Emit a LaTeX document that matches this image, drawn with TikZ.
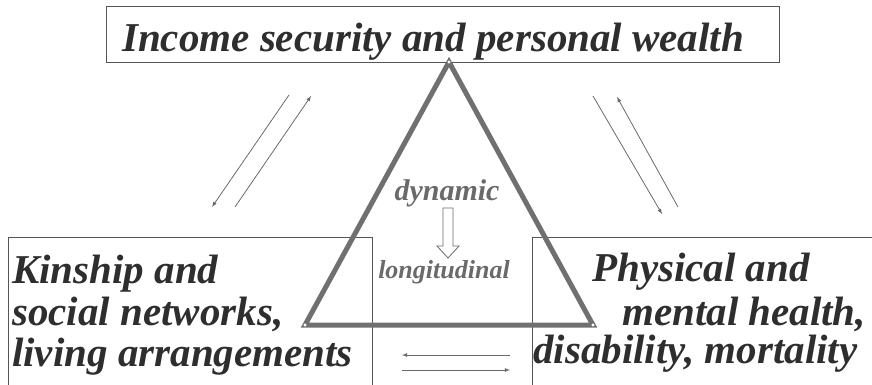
\documentclass[tikz,border=0pt]{standalone}
\usepackage{fontspec}
\setmainfont{Liberation Serif}
\definecolor{textgray}{HTML}{2E2E2E}
\definecolor{linegray}{HTML}{555555}
\definecolor{arrowgray}{HTML}{6A6A6A}
\definecolor{trigray}{HTML}{707070}
\begin{document}
\begin{tikzpicture}[x=1pt, y=-1pt]
    \tikzstyle{text_style} = [inner sep=0, anchor=base west, text=textgray, font=\fontsize{41}{45}\selectfont\bfseries\itshape]
    \tikzstyle{small_style} = [inner sep=0, anchor=base, text=arrowgray, font=\bfseries\itshape]
    \tikzstyle{box_style} = [draw=linegray, line width=1]
    \tikzstyle{arrow_style} = [->, arrowgray, line width=0.8, >=latex]
    \tikzstyle{tri_style} = [trigray, line width=5, line join=miter]

    \useasboundingbox (0,0) rectangle (872,385);

    % boxes
    \draw[box_style] (106,7) rectangle (779,63);
    \draw[box_style] (8,386) |- (372,237) -- (372,386);
    \draw[box_style] (532,386) |- (874,237);

    % texts
    \node[text_style] (income) at (122,52) {Income security and personal wealth};
    \node[text_style] (kin1) at (12,283) {Kinship and};
    \node[text_style] (kin2) at (12,325) {social networks,};
    \node[text_style] (kin3) at (12,366) {living arrangements};
    \node[text_style] (health1) at (592,281) {Physical and};
    \node[text_style] (health2) at (622,325) {mental health,};
    \node[text_style] (health3) at (533,363) {disability, mortality};

    % triangle
    \coordinate (apex) at (449,62);
    \coordinate (left) at (305,325);
    \coordinate (right) at (593,325);
    \draw[tri_style] (apex) -- (left) -- (right) -- cycle;
    \foreach \v in {apex, left, right}
        \fill[white] (\v) circle (1.6);

    \node[small_style, font=\fontsize{30}{33}\selectfont\bfseries\itshape] (dynamic) at (447,200) {dynamic};
    \node[small_style, font=\fontsize{26}{29}\selectfont\bfseries\itshape] (longitudinal) at (444,278) {longitudinal};
    \draw[arrowgray, line width=0.8, fill=white]
        (443,208) -- (453,208) -- (453,246) -- (459,246) -- (448,258)
        -- (437,246) -- (443,246) -- cycle;

    % arrows
    \coordinate (l1a) at (289,95);  \coordinate (l1b) at (212,207);
    \coordinate (l2a) at (235,207); \coordinate (l2b) at (311,96);
    \coordinate (r1a) at (593,96);  \coordinate (r1b) at (662,214);
    \coordinate (r2a) at (678,207); \coordinate (r2b) at (617,97);
    \coordinate (b1a) at (510,355); \coordinate (b1b) at (402,355);
    \coordinate (b2a) at (402,370); \coordinate (b2b) at (510,370);

    \draw[arrow_style] (l1a) -- (l1b);
    \draw[arrow_style] (l2a) -- (l2b);
    \draw[arrow_style] (r1a) -- (r1b);
    \draw[arrow_style] (r2a) -- (r2b);
    \draw[arrow_style] (b1a) -- (b1b);
    \draw[arrow_style] (b2a) -- (b2b);
\end{tikzpicture}
\end{document}
